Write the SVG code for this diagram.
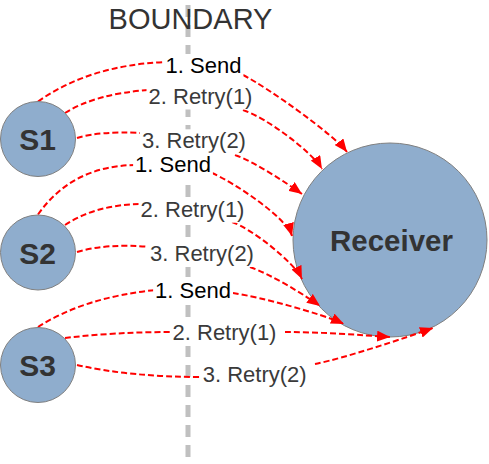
<svg xmlns="http://www.w3.org/2000/svg" width="489" height="464" viewBox="0 0 489 464">
<style>
.node{fill:#8fadcd;stroke:#808080;stroke-width:1}
.nlab{font-family:"Liberation Sans",Arial,sans-serif;font-weight:bold;fill:#333;text-anchor:middle}
.edge{fill:none;stroke:#ff0000;stroke-width:2;stroke-dasharray:6 3;marker-end:url(#arr)}
.lbg{fill:#fff}
.elab{font-family:"Liberation Sans",Arial,sans-serif;font-size:22px;text-anchor:middle}
.send{fill:#000}
.retry{fill:#3a3a3a}
</style>
<defs>
<marker id="arr" markerUnits="userSpaceOnUse" markerWidth="13" markerHeight="11" refX="13" refY="5.5" orient="auto">
<path d="M0,0 L13,5.5 L0,11 z" fill="#ff0000"/>
</marker>
</defs>
<rect width="489" height="464" fill="#fff"/>
<g id="boundary">
<line x1="188" y1="5" x2="188" y2="464" stroke="#c0c0c0" stroke-width="5" stroke-dasharray="12 8"/>
<text x="190.5" y="28.5" font-family="'Liberation Sans',Arial,sans-serif" font-size="29" fill="#333" text-anchor="middle">BOUNDARY</text>
</g>
<g id="Receiver">
<circle class="node" cx="390" cy="240" r="97"/>
<text class="nlab" x="391.5" y="251" font-size="29.5">Receiver</text>
</g>
<g id="connectors">
<path class="edge" d="M38,101.5 Q90,65 166,62 M243,75 C267,87 333,134 347,152"/>
<path class="edge" d="M65,113 Q95,94 148,90 M243,110 C267,118 312,152 322,169"/>
<path class="edge" d="M77,138 Q100,131 141,133 M235,155 C255,162 288,184 302,194"/>
<path class="edge" d="M38,214.5 Q72,166 135,165 M212,173 C235,183 287,218 292,236"/>
<path class="edge" d="M65,225 Q95,205 140,204 M232,222 C252,229 294,262 302,279"/>
<path class="edge" d="M77,252 Q108,243 150,247 M250,267 C270,274 305,295 320,306"/>
<path class="edge" d="M38,327 Q85,297 156,290 M233,293 C260,297 320,313 344,324"/>
<path class="edge" d="M65,338 Q115,332 172,332 M285,332 C320,332 360,335 390,337"/>
<path class="edge" d="M77,365 Q130,377 203,377 M315,364 C345,358 405,338 433,328"/>
<g id="labels">
<rect class="lbg" x="163.6" y="54" width="79.8" height="25"/>
<text class="elab send" x="203.5" y="73">1. Send</text>
<rect class="lbg" x="146.5" y="84.5" width="108" height="25"/>
<text class="elab retry" x="200.5" y="103.5">2. Retry(1)</text>
<rect class="lbg" x="140" y="129.3" width="108" height="25"/>
<text class="elab retry" x="194" y="148.3">3. Retry(2)</text>
<rect class="lbg" x="133.1" y="152.7" width="79.8" height="25"/>
<text class="elab send" x="173" y="171.7">1. Send</text>
<rect class="lbg" x="138.5" y="197.7" width="108" height="25"/>
<text class="elab retry" x="192.5" y="216.7">2. Retry(1)</text>
<rect class="lbg" x="148" y="242" width="108" height="25"/>
<text class="elab retry" x="202" y="261">3. Retry(2)</text>
<rect class="lbg" x="153.1" y="278.7" width="79.8" height="25"/>
<text class="elab send" x="193" y="297.7">1. Send</text>
<rect class="lbg" x="170.5" y="321" width="108" height="25"/>
<text class="elab retry" x="224.5" y="340">2. Retry(1)</text>
<rect class="lbg" x="200.7" y="362.7" width="108" height="25"/>
<text class="elab retry" x="254.7" y="381.7">3. Retry(2)</text>
</g>
</g>
<g id="S1">
<circle class="node" cx="38" cy="139" r="37.5"/>
<text class="nlab" x="37.5" y="150" font-size="30">S1</text>
</g>
<g id="S2">
<circle class="node" cx="38" cy="252.5" r="37.5"/>
<text class="nlab" x="37.5" y="263.5" font-size="30">S2</text>
</g>
<g id="S3">
<circle class="node" cx="38" cy="365" r="37.5"/>
<text class="nlab" x="37.5" y="376" font-size="30">S3</text>
</g>
</svg>
